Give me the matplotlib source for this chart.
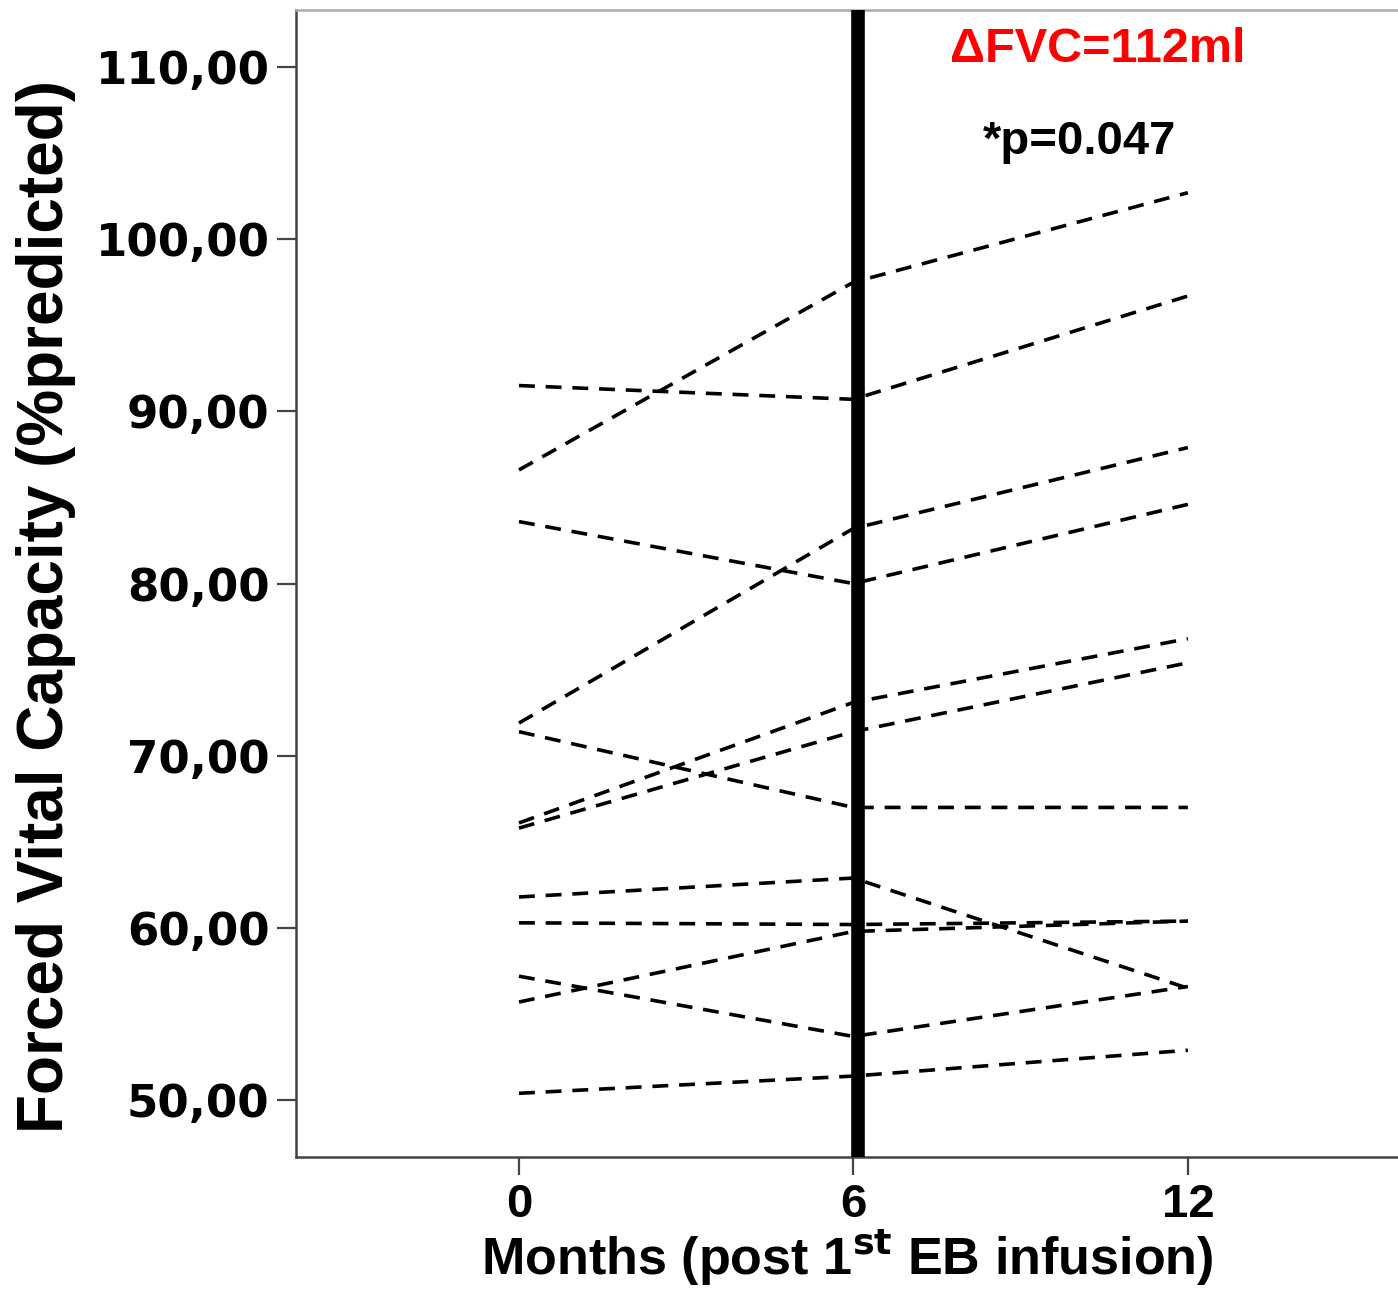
import matplotlib.pyplot as plt

# FVC (% predicted) per patient at 0, 6 and 12 months
months = [0, 6, 12]
fvc_m0 = [86.6, 91.5, 71.9, 83.6, 66.1, 65.8, 71.4, 61.8, 60.3, 55.7, 57.2, 50.4]
fvc_m6 = [97.5, 90.7, 83.2, 80.0, 73.1, 71.4, 67.0, 62.9, 60.2, 59.8, 53.7, 51.4]
fvc_m12 = [102.7, 96.7, 87.9, 84.6, 76.8, 75.4, 67.0, 56.5, 60.4, 60.4, 56.6, 52.9]
yticks = [50, 60, 70, 80, 90, 100, 110]
ytick_labels = ["50,00", "60,00", "70,00", "80,00", "90,00", "100,00", "110,00"]

fig = plt.figure(figsize=(13.98, 12.9), dpi=100)
ax = fig.add_axes([296 / 1398, 1 - 1157 / 1290, 1 - 296 / 1398, (1157 - 10) / 1290])

for a, b, c in zip(fvc_m0, fvc_m6, fvc_m12):
    ax.plot(months, [a, b, c], color="black", lw=2.6, dashes=(4.4, 3.0))

# vertical marker at 6 months
ax.axvline(6.08, color="black", lw=9.8, zorder=3)

ax.set_xlim(-4.0, 15.77)
ax.set_ylim(46.7, 113.31)

ax.set_xticks(months)
ax.set_xticklabels([str(m) for m in months], fontsize=34, fontweight="bold",
                   family="Liberation Sans")
ax.set_yticks(yticks)
ax.set_yticklabels(ytick_labels, fontsize=32.5, fontweight="bold", family="DejaVu Sans")
ax.tick_params(axis="y", length=14, width=1.6, color="#444444", pad=5)
ax.tick_params(axis="x", length=13, width=1.6, color="#444444", pad=6)

for s in ["left", "bottom"]:
    ax.spines[s].set_color("#444444")
    ax.spines[s].set_linewidth(1.8)
ax.spines["top"].set_color("#aaaaaa")
ax.spines["top"].set_linewidth(1.8)
ax.spines["right"].set_visible(False)

ax.set_xlabel("Months (post 1$^{\\mathbf{st}}$ EB infusion)", fontsize=37.5, fontweight="bold",
              family="Liberation Sans", labelpad=0)
ax.set_ylabel("Forced Vital Capacity (%predicted)", fontsize=46, fontweight="bold",
              family="Liberation Sans")
ax.yaxis.set_label_coords(-0.2, 0.48)

fig.text(1098 / 1398, 1 - 50 / 1290, "ΔFVC=112ml", color="#ff0000", fontsize=35,
         fontweight="bold", family="Liberation Sans", ha="center", va="center")
fig.text(1080 / 1398, 1 - 142 / 1290, "*p=0.047", color="black", fontsize=34,
         fontweight="bold", family="Liberation Sans", ha="center", va="center")

fig.savefig("out.png", dpi=100)
